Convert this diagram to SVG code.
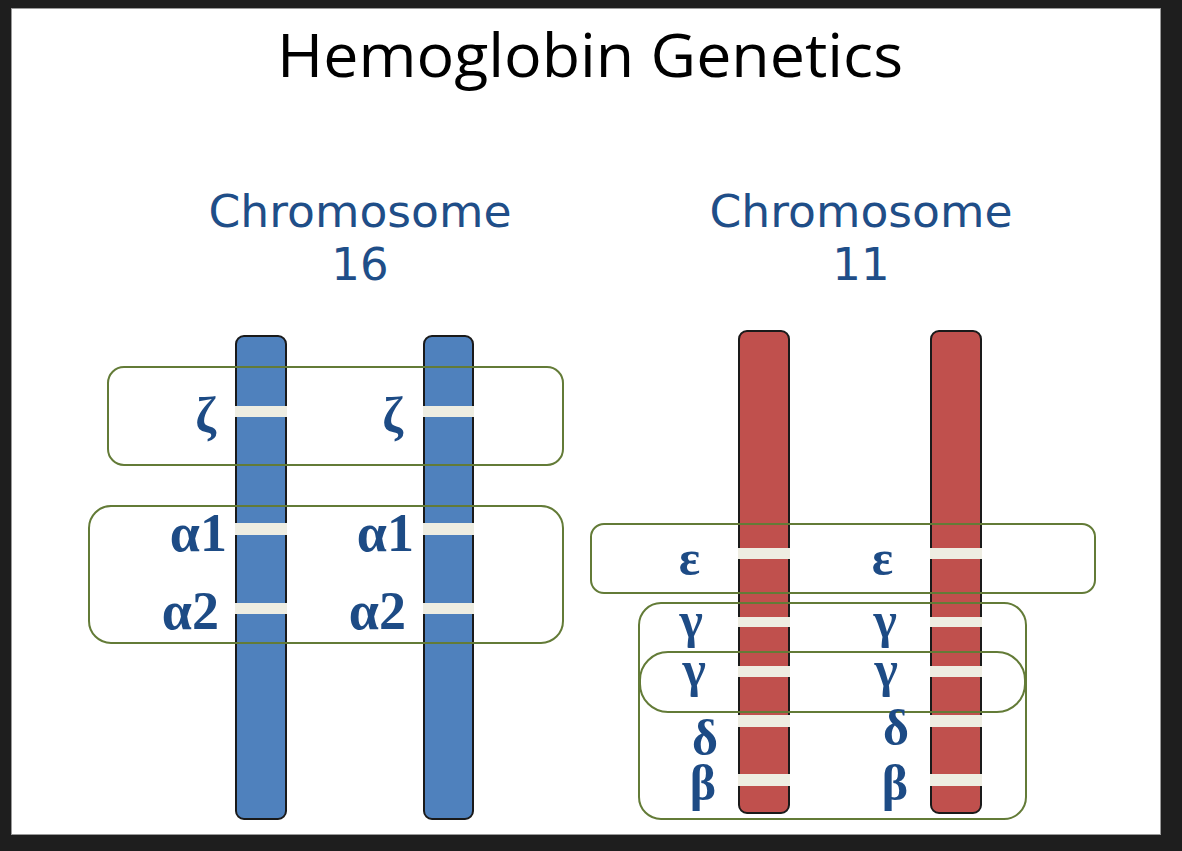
<svg xmlns="http://www.w3.org/2000/svg" width="1182" height="851" viewBox="0 0 1182 851">
<style>
.title{font-family:"Open Sans","Liberation Sans",sans-serif;font-size:60px;fill:#000}
.chr{font-family:"DejaVu Sans","Liberation Sans",sans-serif;font-size:45px;fill:#1f4e88;text-anchor:middle}
.g{font-family:"Liberation Serif","DejaVu Serif",serif;font-weight:bold;font-size:50px;fill:#1d4b85;text-anchor:end}
.a{font-size:54px}
.blue{fill:#4f81bd;stroke:#1a1a1a;stroke-width:2}
.red{fill:#c0504d;stroke:#1a1a1a;stroke-width:2}
.band{fill:#eeede2}
.box{fill:none;stroke:#637b37;stroke-width:2}
</style>
<rect x="0" y="0" width="1182" height="851" fill="#1e1e1e"/>
<rect x="11.5" y="8.5" width="1149" height="826" fill="#fff" stroke="#9a9a9a" stroke-width="1"/>
<text class="title" x="590" y="77" text-anchor="middle" textLength="626" lengthAdjust="spacingAndGlyphs">Hemoglobin Genetics</text>
<g id="label16">
<text class="chr" x="360" y="227" textLength="303" lengthAdjust="spacingAndGlyphs">Chromosome</text>
<text class="chr" x="360" y="280">16</text>
</g>
<g id="label11">
<text class="chr" x="861" y="227" textLength="303" lengthAdjust="spacingAndGlyphs">Chromosome</text>
<text class="chr" x="861" y="280">11</text>
</g>
<g id="chr16a">
<rect class="blue" x="236" y="336" width="50" height="483" rx="8"/>
<rect class="band" x="235" y="406" width="52" height="11"/>
<rect class="band" x="235" y="523" width="52" height="12"/>
<rect class="band" x="235" y="603" width="52" height="11"/>
</g>
<g id="chr16b">
<rect class="blue" x="424" y="336" width="49" height="483" rx="8"/>
<rect class="band" x="423" y="406" width="51" height="11"/>
<rect class="band" x="423" y="523" width="51" height="12"/>
<rect class="band" x="423" y="603" width="51" height="11"/>
</g>
<g id="chr11a">
<rect class="red" x="739" y="331" width="50" height="482" rx="8"/>
<rect class="band" x="738" y="548" width="52" height="11"/>
<rect class="band" x="738" y="617" width="52" height="10"/>
<rect class="band" x="738" y="666" width="52" height="11"/>
<rect class="band" x="738" y="715" width="52" height="12"/>
<rect class="band" x="738" y="774" width="52" height="12"/>
</g>
<g id="chr11b">
<rect class="red" x="931" y="331" width="50" height="482" rx="8"/>
<rect class="band" x="930" y="548" width="52" height="11"/>
<rect class="band" x="930" y="617" width="52" height="10"/>
<rect class="band" x="930" y="666" width="52" height="11"/>
<rect class="band" x="930" y="715" width="52" height="12"/>
<rect class="band" x="930" y="774" width="52" height="12"/>
</g>
<g id="groups">
<rect id="box-zeta" class="box" x="108" y="367" width="455" height="98" rx="16"/>
<rect id="box-alpha" class="box" x="89" y="506" width="474" height="137" rx="22"/>
<rect id="box-epsilon" class="box" x="591" y="524" width="504" height="69" rx="13"/>
<rect id="box-beta" class="box" x="639" y="603" width="387" height="216" rx="22"/>
<rect id="box-gamma" class="box" x="640" y="652" width="385" height="60" rx="28"/>
</g>
<g id="labels16">
<text class="g" x="216" y="432">ζ</text>
<text class="g" x="403" y="432">ζ</text>
<text class="g a" x="227" y="551">α1</text>
<text class="g a" x="414" y="551">α1</text>
<text class="g a" x="219" y="629">α2</text>
<text class="g a" x="406" y="629">α2</text>
</g>
<g id="labels11">
<text class="g" x="700" y="575">ε</text>
<text class="g" x="893" y="575">ε</text>
<text class="g" x="703" y="637">γ</text>
<text class="g" x="897" y="637">γ</text>
<text class="g" x="706" y="686">γ</text>
<text class="g" x="898" y="686">γ</text>
<text class="g" x="718" y="755">δ</text>
<text class="g" x="909" y="745">δ</text>
<text class="g" x="716" y="800">β</text>
<text class="g" x="908" y="800">β</text>
</g>
</svg>
